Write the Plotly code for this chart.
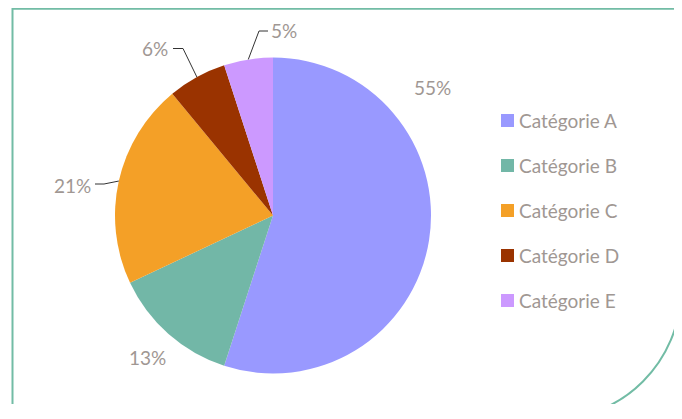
import math
import plotly.graph_objects as go

# ---- data ----
categories = ["Catégorie A", "Catégorie B", "Catégorie C", "Catégorie D", "Catégorie E"]
values = [55, 13, 21, 6, 5]
colors = ["#9999FF", "#72B7A7", "#F4A027", "#9A3300", "#CC99FF"]

# ---- layout geometry (screen pixels; page body has an 8px margin) ----
OFF = 8
W, H = 682 - OFF, 396
CX, CY, R = 273, 215.5, 158
TEXT = "#A09793"
FONT = "Lato"
FS = 19

def px(x):
    return (x - OFF) / W

def py(y):
    return 1 - (y - OFF) / H

total = sum(values)
labels = [f"{round(v / total * 100)}%" for v in values]

# label text centres and leader elbows (None = no leader)
label_pos = [(433, 87), (147.5, 357), (72, 185), (155, 48.5), (284, 31)]
leader_start = [None, None, (95, 184), (173, 48.5), (268, 31)]
leader_elbow = [None, None, (104, 184), (183, 48.5), (259, 31)]

fig = go.Figure(go.Pie(
    labels=categories,
    values=values,
    sort=False,
    direction="clockwise",
    rotation=0,
    marker=dict(colors=colors, line=dict(width=0)),
    textinfo="none",
    hoverinfo="label+percent",
    showlegend=False,
    domain=dict(x=[px(CX - R), px(CX + R)], y=[py(CY + R), py(CY - R)]),
))

shapes = []
annotations = []

# border: rectangle with large rounded bottom-right corner
rc = 130
k = 0.5523 * rc
xl, xr, yt, yb = 12.5, 681, 8.8, 419.5
path = (f"M {px(xl)},{py(yb + 5)} L {px(xl)},{py(yt)} L {px(xr)},{py(yt)} "
        f"L {px(xr)},{py(yb - rc)} "
        f"C {px(xr)},{py(yb - rc + k)} {px(xr - rc + k)},{py(yb)} {px(xr - rc)},{py(yb)} "
        f"L {px(xl)},{py(yb)}")
shapes.append(dict(type="path", xref="paper", yref="paper", path=path,
                   line=dict(color="#72BCA5", width=2)))

# labels and leader lines
cum = 0
for i, v in enumerate(values):
    mid = (cum + v / 2) / total * 2 * math.pi
    cum += v
    ex = CX + R * math.sin(mid)
    ey = CY - R * math.cos(mid)
    lx, ly = label_pos[i]
    annotations.append(dict(x=px(lx), y=py(ly), xref="paper", yref="paper",
                            text=labels[i], showarrow=False,
                            xanchor="center", yanchor="middle",
                            font=dict(family=FONT, size=FS, color=TEXT)))
    if leader_start[i] is not None:
        sx, sy = leader_start[i]
        bx, by = leader_elbow[i]
        shapes.append(dict(type="path", xref="paper", yref="paper",
                           path=f"M {px(sx)},{py(sy)} L {px(bx)},{py(by)} L {px(ex)},{py(ey)}",
                           line=dict(color="#333333", width=1)))

# manual legend
LX, LY0, LDY, SQ = 501, 120.5, 45, 13
for i, c in enumerate(categories):
    y = LY0 + i * LDY
    shapes.append(dict(type="rect", xref="paper", yref="paper",
                       x0=px(LX), x1=px(LX + SQ), y0=py(y + SQ / 2), y1=py(y - SQ / 2),
                       fillcolor=colors[i], line=dict(width=0)))
    annotations.append(dict(x=px(LX + SQ + 3), y=py(y), xref="paper", yref="paper",
                            text=c, showarrow=False, xanchor="left", yanchor="middle",
                            font=dict(family=FONT, size=FS, color=TEXT)))

fig.update_layout(
    width=W, height=H,
    margin=dict(l=0, r=0, t=0, b=0),
    paper_bgcolor="white",
    plot_bgcolor="white",
    shapes=shapes,
    annotations=annotations,
    showlegend=False,
)

fig.write_html("out.html")
